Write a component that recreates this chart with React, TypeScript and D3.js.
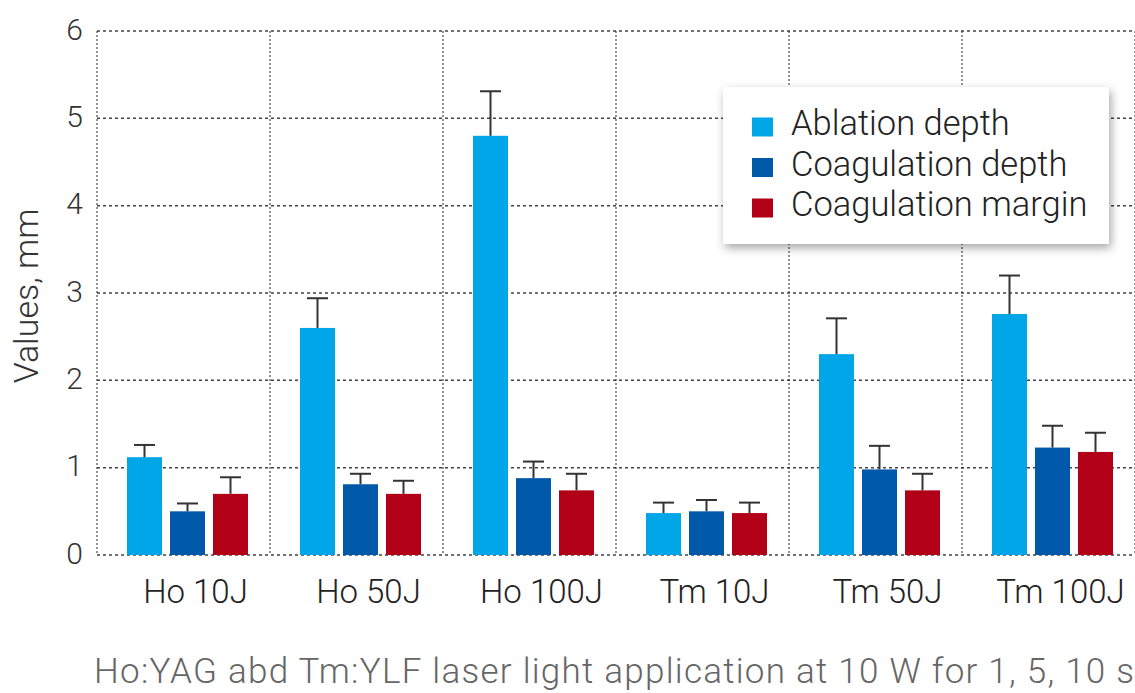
import React from "react";
import * as d3 from "d3";

const categories = ["Ho 10J", "Ho 50J", "Ho 100J", "Tm 10J", "Tm 50J", "Tm 100J"];
const seriesNames = ["Ablation depth", "Coagulation depth", "Coagulation margin"];
const ablationDepth = [1.12, 2.6, 4.8, 0.48, 2.3, 2.76];
const ablationErr = [0.14, 0.34, 0.51, 0.12, 0.41, 0.44];
const coagulationDepth = [0.5, 0.81, 0.88, 0.5, 0.98, 1.23];
const coagulationDepthErr = [0.09, 0.12, 0.19, 0.13, 0.27, 0.25];
const coagulationMargin = [0.7, 0.7, 0.74, 0.48, 0.74, 1.18];
const coagulationMarginErr = [0.19, 0.15, 0.19, 0.12, 0.19, 0.22];
const yTicks = [0, 1, 2, 3, 4, 5, 6];
const yLabel = "Values, mm";
const title = "Ho:YAG abd Tm:YLF laser light application at 10 W for 1, 5, 10 s";

const colors = ["#00A6E8", "#0058A8", "#B20018"];
const values = [ablationDepth, coagulationDepth, coagulationMargin];
const errors = [ablationErr, coagulationDepthErr, coagulationMarginErr];

const W = 1135;
const H = 693;
const FONT = "Roboto, 'Open Sans', sans-serif";

export default function App() {
  const x0 = d3.scaleBand<string>().domain(categories).range([97, 1135]).padding(0);
  const x1 = d3.scaleBand<string>().domain(seriesNames).range([0, 121]).paddingInner(8 / 43).paddingOuter(0);
  const y = d3.scaleLinear().domain([0, 6]).range([555, 31]);
  const groupOffset = 30;
  const bw = x1.bandwidth();
  const capW = 21;

  const vLines = categories.map((c) => x0(c) as number).concat([1135]);

  return (
    <svg width={W} height={H} style={{ position: "absolute", left: 0, top: 0, background: "#fff" }} fontFamily={FONT}>
      <defs>
        <filter id="shadow" x="-10%" y="-20%" width="125%" height="150%">
          <feDropShadow dx="2" dy="4" stdDeviation="5" floodColor="#000" floodOpacity="0.35" />
        </filter>
      </defs>
      {/* horizontal grid */}
      {yTicks.map((t) => (
        <line key={"h" + t} x1={97} x2={1135} y1={y(t)} y2={y(t)} stroke="#444" strokeWidth={1.5} strokeDasharray="3,3" />
      ))}
      {/* vertical grid */}
      {vLines.map((vx, i) => (
        <line key={"v" + i} x1={vx} x2={vx} y1={y(6)} y2={y(0)} stroke="#222" strokeWidth={1} strokeDasharray="2,2" />
      ))}
      {/* bars */}
      {categories.map((c, ci) => (
        <g key={c} transform={`translate(${(x0(c) as number) + groupOffset},0)`}>
          {seriesNames.map((s, si) => {
            const v = values[si][ci];
            const e = errors[si][ci];
            const bx = x1(s) as number;
            const cx = bx + bw / 2;
            return (
              <g key={s}>
                <rect x={bx} y={y(v)} width={bw} height={y(0) - y(v)} fill={colors[si]} />
                <line x1={cx} x2={cx} y1={y(v)} y2={y(v + e)} stroke="#333" strokeWidth={2} />
                <line x1={cx - capW / 2} x2={cx + capW / 2} y1={y(v + e)} y2={y(v + e)} stroke="#333" strokeWidth={2} />
              </g>
            );
          })}
        </g>
      ))}
      {/* y tick labels */}
      {yTicks.map((t) => (
        <text key={"t" + t} x={83} y={y(t) - 2} textAnchor="end" dominantBaseline="central" fontSize={30} fontWeight={300} fill="#333">
          {t}
        </text>
      ))}
      {/* y label */}
      <text transform={`translate(38,296) rotate(-90)`} textAnchor="middle" fontSize={34} fontWeight={300} fill="#333">
        {yLabel}
      </text>
      {/* x labels */}
      {categories.map((c) => (
        <text key={"x" + c} x={(x0(c) as number) + groupOffset + 60.5 + 8} y={603} textAnchor="middle" fontSize={33} fontWeight={300} fill="#222">
          {c}
        </text>
      ))}
      {/* title */}
      <text x={94} y={683} textAnchor="start" fontSize={35} fontWeight={300} fill="#666" textLength={1040} lengthAdjust="spacing">
        {title}
      </text>
      {/* legend */}
      <g>
        <rect x={723} y={87} width={386} height={157} fill="#fff" filter="url(#shadow)" />
        {seriesNames.map((s, i) => (
          <g key={"l" + s} transform={`translate(0,${127 + i * 40.5})`}>
            <rect x={752} y={-9.5} width={21} height={19} fill={colors[i]} />
            <text x={791} y={8} fontSize={34.5} fontWeight={300} fill="#222">
              {s}
            </text>
          </g>
        ))}
      </g>
    </svg>
  );
}
